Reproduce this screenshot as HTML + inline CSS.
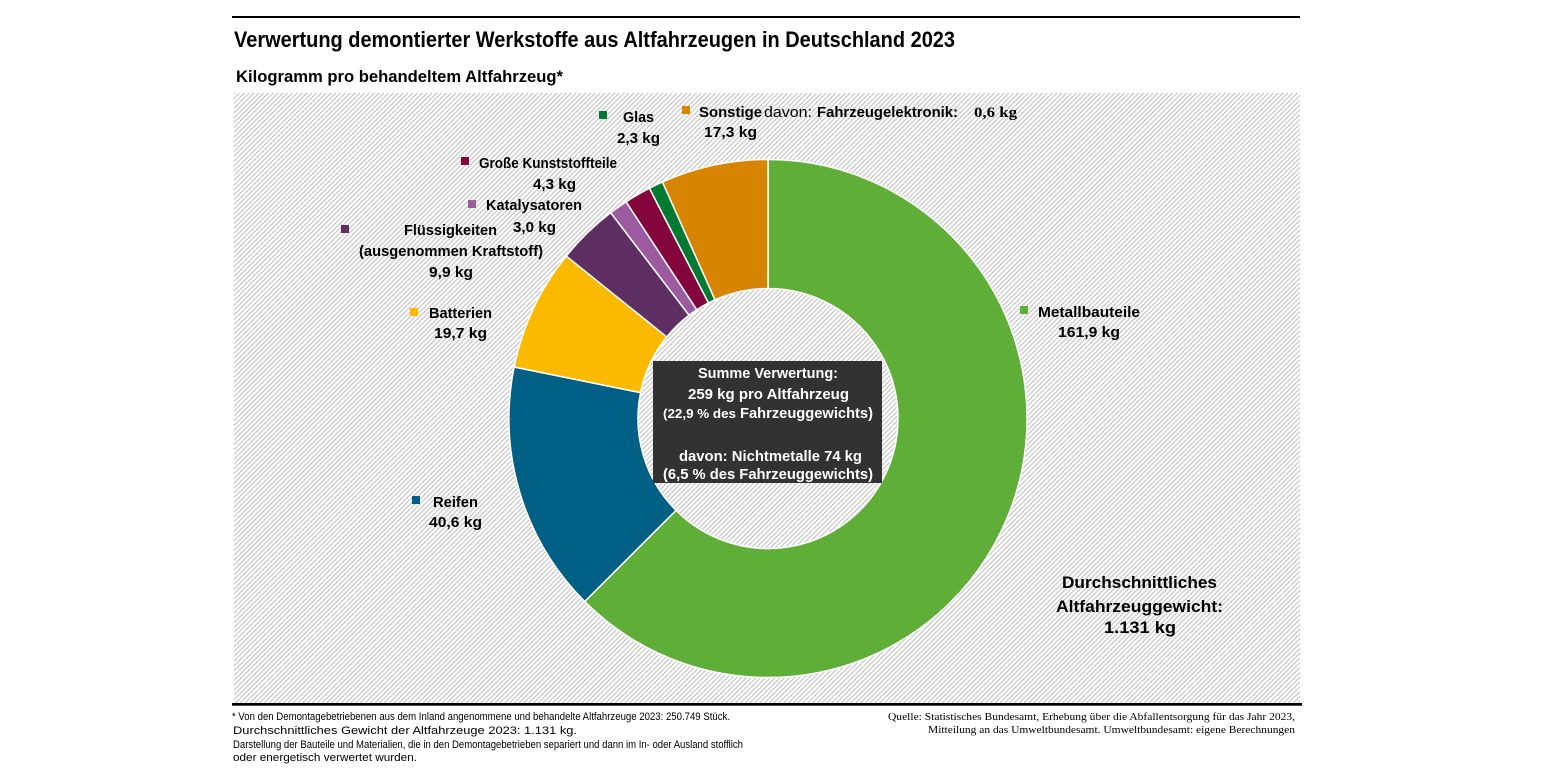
<!DOCTYPE html>
<html><head><meta charset="utf-8"><style>
html,body{margin:0;padding:0;background:#fff;}
svg{display:block;}
.b{font-family:"Liberation Sans",sans-serif;font-weight:bold;fill:#000;}
.r{font-family:"Liberation Sans",sans-serif;fill:#000;}
.s{font-family:"Liberation Serif",serif;fill:#000;}
.w{font-family:"Liberation Sans",sans-serif;font-weight:bold;fill:#fff;}
</style></head><body>
<svg width="1545" height="775" viewBox="0 0 1545 775" xmlns="http://www.w3.org/2000/svg">
<defs>
<pattern id="h" width="3.4" height="3.4" patternUnits="userSpaceOnUse" patternTransform="rotate(45)">
<rect width="3.4" height="3.4" fill="#fff"/>
<rect x="0" y="0" width="1.1" height="3.4" fill="#c2c2c2"/>
</pattern>
</defs>
<rect width="1545" height="775" fill="#fff"/>
<rect x="232" y="16" width="1068" height="2" fill="#000"/>
<text class="b" x="234" y="47" font-size="22" textLength="721" lengthAdjust="spacingAndGlyphs">Verwertung demontierter Werkstoffe aus Altfahrzeugen in Deutschland 2023</text>
<text class="b" x="236" y="82" font-size="17" textLength="327" lengthAdjust="spacingAndGlyphs">Kilogramm pro behandeltem Altfahrzeug*</text>
<rect x="234" y="93" width="1066" height="610" fill="url(#h)"/>
<rect x="232" y="703" width="1070" height="2.7" fill="#000"/>

<g stroke="#fff" stroke-width="1.5" stroke-linejoin="round">
<path fill="#5fae37" d="M768,159.5 A259,259 0 1 1 584.73,601.51 L676.01,510.36 A130,130 0 1 0 768,288.5 Z"/>
<path fill="#005f85" d="M584.73,601.51 A259,259 0 0 1 514.16,367 L640.59,392.65 A130,130 0 0 0 676.01,510.36 Z"/>
<path fill="#fbb900" d="M514.16,367 A259,259 0 0 1 566.29,256.03 L666.76,336.95 A130,130 0 0 0 640.59,392.65 Z"/>
<path fill="#5f2e62" d="M566.29,256.03 A259,259 0 0 1 610.72,212.71 L689.06,315.21 A130,130 0 0 0 666.76,336.95 Z"/>
<path fill="#9d5b9f" d="M610.72,212.71 A259,259 0 0 1 626.10,201.83 L696.78,309.74 A130,130 0 0 0 689.06,315.21 Z"/>
<path fill="#83053c" d="M626.10,201.83 A259,259 0 0 1 649.45,188.22 L708.50,302.92 A130,130 0 0 0 696.78,309.74 Z"/>
<path fill="#007a33" d="M649.45,188.22 A259,259 0 0 1 662.45,181.98 L715.02,299.78 A130,130 0 0 0 708.50,302.92 Z"/>
<path fill="#d78400" d="M662.45,181.98 A259,259 0 0 1 768,159.5 L768,288.5 A130,130 0 0 0 715.02,299.78 Z"/>
</g>

<!-- center box -->
<rect x="653" y="361" width="229" height="122" fill="#323232"/>
<text class="w" x="698" y="378" font-size="14.5" textLength="140" lengthAdjust="spacingAndGlyphs">Summe Verwertung:</text>
<text class="w" x="688" y="399" font-size="14.5" textLength="161" lengthAdjust="spacingAndGlyphs">259 kg pro Altfahrzeug</text>
<text class="w" x="663" y="418" font-size="13" font-weight="normal" textLength="73" lengthAdjust="spacingAndGlyphs">(22,9 % des</text>
<text class="w" x="740" y="418" font-size="14.5" textLength="133" lengthAdjust="spacingAndGlyphs">Fahrzeuggewichts)</text>
<text class="w" x="679" y="461" font-size="14.5" textLength="183" lengthAdjust="spacingAndGlyphs">davon: Nichtmetalle 74 kg</text>
<text class="w" x="663" y="479" font-size="14.5" textLength="210" lengthAdjust="spacingAndGlyphs">(6,5 % des Fahrzeuggewichts)</text>

<!-- labels -->
<rect x="599" y="111" width="8" height="8" fill="#007a33"/>
<text class="b" x="623" y="122" font-size="14.5" textLength="31" lengthAdjust="spacingAndGlyphs">Glas</text>
<text class="b" x="617" y="143" font-size="14.5" textLength="43" lengthAdjust="spacingAndGlyphs">2,3 kg</text>

<rect x="682" y="106" width="8" height="8" fill="#d78400"/>
<text class="b" x="699" y="117" font-size="14.5" textLength="63" lengthAdjust="spacingAndGlyphs">Sonstige</text>
<text class="r" x="764" y="117" font-size="14.5" textLength="48" lengthAdjust="spacingAndGlyphs">davon:</text>
<text class="b" x="817" y="117" font-size="14.5" textLength="141" lengthAdjust="spacingAndGlyphs">Fahrzeugelektronik:</text>
<text class="s" font-weight="bold" x="974" y="117" font-size="15" textLength="43" lengthAdjust="spacingAndGlyphs">0,6 kg</text>
<text class="b" x="704" y="137" font-size="14.5" textLength="53" lengthAdjust="spacingAndGlyphs">17,3 kg</text>

<rect x="461" y="157" width="8" height="8" fill="#83053c"/>
<text class="b" x="479" y="168" font-size="14.5" textLength="138" lengthAdjust="spacingAndGlyphs">Große Kunststoffteile</text>
<text class="b" x="533" y="189" font-size="14.5" textLength="43" lengthAdjust="spacingAndGlyphs">4,3 kg</text>

<rect x="468" y="200" width="8" height="8" fill="#9d5b9f"/>
<text class="b" x="486" y="210" font-size="14.5" textLength="96" lengthAdjust="spacingAndGlyphs">Katalysatoren</text>
<text class="b" x="513" y="232" font-size="14.5" textLength="43" lengthAdjust="spacingAndGlyphs">3,0 kg</text>

<rect x="341" y="225" width="8" height="8" fill="#5f2e62"/>
<text class="b" x="404" y="235" font-size="14.5" textLength="93" lengthAdjust="spacingAndGlyphs">Flüssigkeiten</text>
<text class="b" x="359" y="256" font-size="14.5" textLength="184" lengthAdjust="spacingAndGlyphs">(ausgenommen Kraftstoff)</text>
<text class="b" x="429" y="277" font-size="14.5" textLength="44" lengthAdjust="spacingAndGlyphs">9,9 kg</text>

<rect x="410" y="308" width="8" height="8" fill="#fbb900"/>
<text class="b" x="429" y="318" font-size="14.5" textLength="63" lengthAdjust="spacingAndGlyphs">Batterien</text>
<text class="b" x="434" y="338" font-size="14.5" textLength="53" lengthAdjust="spacingAndGlyphs">19,7 kg</text>

<rect x="412" y="496" width="8" height="8" fill="#005f85"/>
<text class="b" x="433" y="507" font-size="14.5" textLength="45" lengthAdjust="spacingAndGlyphs">Reifen</text>
<text class="b" x="429" y="527" font-size="14.5" textLength="53" lengthAdjust="spacingAndGlyphs">40,6 kg</text>

<rect x="1020" y="306" width="8" height="8" fill="#5fae37"/>
<text class="b" x="1038" y="317" font-size="14.5" textLength="102" lengthAdjust="spacingAndGlyphs">Metallbauteile</text>
<text class="b" x="1058" y="337" font-size="14.5" textLength="62" lengthAdjust="spacingAndGlyphs">161,9 kg</text>

<text class="b" x="1062" y="588" font-size="17" textLength="155" lengthAdjust="spacingAndGlyphs">Durchschnittliches</text>
<text class="b" x="1056" y="612" font-size="17" textLength="167" lengthAdjust="spacingAndGlyphs">Altfahrzeuggewicht:</text>
<text class="b" x="1104" y="633" font-size="17" textLength="72" lengthAdjust="spacingAndGlyphs">1.131 kg</text>

<!-- footnotes -->
<text class="r" x="232" y="720" font-size="11" textLength="498" lengthAdjust="spacingAndGlyphs">* Von den Demontagebetriebenen aus dem Inland angenommene und behandelte Altfahrzeuge 2023: 250.749 Stück.</text>
<text class="r" x="233" y="734" font-size="11" textLength="344" lengthAdjust="spacingAndGlyphs">Durchschnittliches Gewicht der Altfahrzeuge 2023: 1.131 kg.</text>
<text class="r" x="233" y="748" font-size="11" textLength="510" lengthAdjust="spacingAndGlyphs">Darstellung der Bauteile und Materialien, die in den Demontagebetrieben separiert und dann im In- oder Ausland stofflich</text>
<text class="r" x="233" y="761" font-size="11" textLength="184" lengthAdjust="spacingAndGlyphs">oder energetisch verwertet wurden.</text>

<text class="s" x="888" y="720" font-size="11" textLength="407" lengthAdjust="spacingAndGlyphs">Quelle: Statistisches Bundesamt, Erhebung über die Abfallentsorgung für das Jahr 2023,</text>
<text class="s" x="928" y="733" font-size="11" textLength="367" lengthAdjust="spacingAndGlyphs">Mitteilung an das Umweltbundesamt. Umweltbundesamt: eigene Berechnungen</text>
</svg>
</body></html>
